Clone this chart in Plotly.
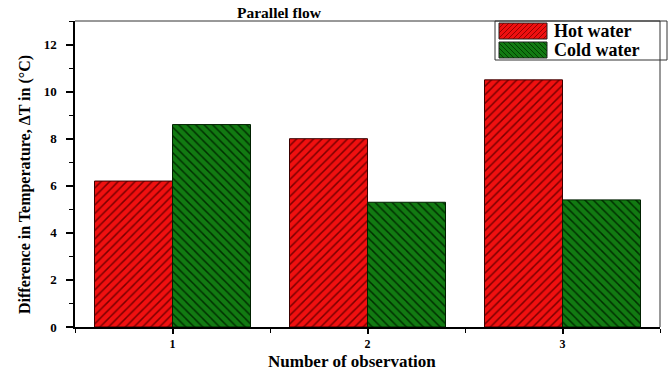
import plotly.graph_objects as go

observations = [1, 2, 3]
hot_water = [6.2, 8.0, 10.5]
cold_water = [8.6, 5.3, 5.4]
series_names = ["Hot water", "Cold water"]
y_ticks = [0, 2, 4, 6, 8, 10, 12]

FONT = "Liberation Serif"
RED = "#f01010"
GREEN = "#127a12"

# plot area in pixels
L, R, T, B = 75, 660, 21, 327
W, H = 669, 374

def px(x):
    return (x - L) / (R - L)

def py(y):
    return (B - y) / (B - T)

fig = go.Figure()
fig.add_trace(go.Bar(
    x=observations, y=hot_water, name=series_names[0], offsetgroup=0,
    marker=dict(color=RED, line=dict(color="#3a0000", width=1),
                pattern=dict(shape="/", size=6, solidity=0.25, fgcolor="#7a0000",
                             bgcolor=RED, fillmode="replace")),
    width=0.4, showlegend=False))
fig.add_trace(go.Bar(
    x=observations, y=cold_water, name=series_names[1], offsetgroup=1,
    marker=dict(color=GREEN, line=dict(color="#002000", width=1),
                pattern=dict(shape="\\", size=6, solidity=0.25, fgcolor="#003000",
                             bgcolor=GREEN, fillmode="replace")),
    width=0.4, showlegend=False))

shapes = []
annotations = []

# custom legend box
shapes.append(dict(type="rect", xref="paper", yref="paper",
                   x0=px(495), x1=px(667), y0=py(60), y1=py(21),
                   line=dict(color="#333", width=1), fillcolor="white", layer="above"))

def swatch(x0, y0, x1, y1, fill, linecol, direction):
    shapes.append(dict(type="rect", xref="paper", yref="paper",
                       x0=px(x0), x1=px(x1), y0=py(y1), y1=py(y0),
                       line=dict(color="#222", width=1), fillcolor=fill, layer="above"))
    step = 5
    h = y1 - y0
    c = x0 - h
    while c < x1:
        if direction == "/":
            xa, ya, xb, yb = c, y1, c + h, y0
        else:
            xa, ya, xb, yb = c, y0, c + h, y1
        t0, t1 = 0.0, 1.0
        dx = xb - xa
        ta = (x0 - xa) / dx
        tb = (x1 - xa) / dx
        t0 = max(t0, min(ta, tb))
        t1 = min(t1, max(ta, tb))
        if t1 > t0:
            sx0 = xa + dx * t0
            sx1 = xa + dx * t1
            sy0 = ya + (yb - ya) * t0
            sy1 = ya + (yb - ya) * t1
            shapes.append(dict(type="line", xref="paper", yref="paper",
                               x0=px(sx0), x1=px(sx1), y0=py(sy0), y1=py(sy1),
                               line=dict(color=linecol, width=0.8), layer="above"))
        c += step

swatch(499, 23, 547, 39, RED, "#7a0000", "/")
swatch(499, 42, 547, 58, GREEN, "#003000", "\\")

annotations.append(dict(text="<b>Hot water</b>", xref="paper", yref="paper",
                        x=px(552), y=py(31), xanchor="left", yanchor="middle",
                        showarrow=False, font=dict(family=FONT, size=18, color="black")))
annotations.append(dict(text="<b>Cold water</b>", xref="paper", yref="paper",
                        x=px(552), y=py(50), xanchor="left", yanchor="middle",
                        showarrow=False, font=dict(family=FONT, size=18, color="black")))

# title
annotations.append(dict(text="<b>Parallel flow</b>", xref="paper", yref="paper",
                        x=px(279), y=py(12), xanchor="center", yanchor="middle",
                        showarrow=False, font=dict(family=FONT, size=15.5, color="black")))

# y-axis title
annotations.append(dict(text="<b>Difference in Temperature, ΔT in (°C)</b>", xref="paper", yref="paper",
                        x=px(25), y=py(185), xanchor="center", yanchor="middle", textangle=-90,
                        showarrow=False, font=dict(family=FONT, size=16, color="black")))

# x-axis title
annotations.append(dict(text="<b>Number of observation</b>", xref="paper", yref="paper",
                        x=px(352), y=py(361), xanchor="center", yanchor="middle",
                        showarrow=False, font=dict(family=FONT, size=17, color="black")))

fig.update_layout(
    width=W, height=H,
    margin=dict(l=L, r=W - R, t=T, b=H - B, pad=0, autoexpand=False),
    paper_bgcolor="white", plot_bgcolor="white",
    barmode="group", bargap=0.2, bargroupgap=0,
    shapes=shapes, annotations=annotations,
    font=dict(family=FONT, color="black"),
    xaxis=dict(
        automargin=False,
        range=[0.5, 3.5], tickvals=observations, ticktext=[f"<b>{v}</b>" for v in observations],
        ticks="outside", ticklen=5, tickwidth=1.5, tickcolor="black",
        minor=dict(tickvals=[0.5, 1.5, 2.5, 3.5], ticks="outside", ticklen=4, tickcolor="black", tickwidth=1.2),
        showline=True, linecolor="black", linewidth=1.5, mirror=False,
        showgrid=False, zeroline=False,
        tickfont=dict(family=FONT, size=12, color="black"),
    ),
    yaxis=dict(
        automargin=False,
        range=[0, 13], tickvals=y_ticks, ticktext=[f"<b>{v}</b>" for v in y_ticks],
        ticks="outside", ticklen=7, tickwidth=1.5, tickcolor="black",
        ticklabelstandoff=7,
        minor=dict(dtick=1, ticks="outside", ticklen=4, tickcolor="black", tickwidth=1.2),
        showline=True, linecolor="black", linewidth=1.5,
        showgrid=False, zeroline=False,
        tickfont=dict(family=FONT, size=13, color="black"),
    ),
)

# thin mirror frame (top and right)
fig.add_shape(type="line", xref="paper", yref="paper", x0=0, x1=1, y0=1, y1=1,
              line=dict(color="#333", width=1))
fig.add_shape(type="line", xref="paper", yref="paper", x0=1, x1=1, y0=0, y1=1,
              line=dict(color="#333", width=1))

fig.write_html("out.html")
